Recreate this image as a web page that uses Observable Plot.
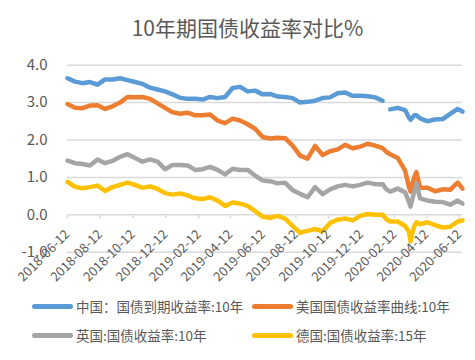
<!DOCTYPE html>
<html><head><meta charset="utf-8">
<script src="https://cdn.jsdelivr.net/npm/d3@7"></script>
<script src="https://cdn.jsdelivr.net/npm/@observablehq/plot@0.6"></script>
<style>
body{margin:0;background:#fff;font-family:"Noto Sans CJK SC","Noto Sans",sans-serif;color:#595959;width:475px;height:360px;overflow:hidden;}
#title{height:50px;line-height:54px;text-align:center;font-size:21px;padding-left:20px;box-sizing:border-box;}
#legend{position:relative;height:65px;font-size:13.5px;}
.item{position:absolute;height:20px;display:flex;align-items:center;white-space:nowrap;}
.sw{width:41px;height:5px;border-radius:3px;margin-right:3px;}
svg{display:block;}
</style></head><body>
<div id="title">10年期国债收益率对比%</div>
<div id="chart"></div>
<div id="legend"></div>
<script>
const dates = ["2018-06-12","2018-06-26","2018-07-10","2018-07-24","2018-08-07","2018-08-21","2018-09-04","2018-09-18","2018-10-02","2018-10-16","2018-10-30","2018-11-13","2018-11-27","2018-12-11","2018-12-25",
"2019-01-08","2019-01-22","2019-02-05","2019-02-19","2019-03-05","2019-03-19","2019-04-02","2019-04-16","2019-04-30","2019-05-14","2019-05-28","2019-06-11","2019-06-25","2019-07-09","2019-07-23","2019-08-06","2019-08-20","2019-09-03","2019-09-17","2019-10-01","2019-10-15","2019-10-29","2019-11-12","2019-11-26","2019-12-10","2019-12-24",
"2020-01-07","2020-01-21","2020-01-28","2020-02-04","2020-02-18","2020-03-03","2020-03-10","2020-03-13","2020-03-17","2020-03-20","2020-03-24","2020-03-31","2020-04-14","2020-04-28","2020-05-12","2020-05-26","2020-06-09","2020-06-18"];

const china = [3.65,3.56,3.52,3.55,3.48,3.62,3.62,3.65,3.60,3.55,3.50,3.40,3.35,3.30,3.22,
3.13,3.10,3.10,3.08,3.15,3.12,3.15,3.39,3.42,3.30,3.32,3.22,3.23,3.16,3.15,3.12,3.00,3.02,3.05,3.12,3.14,3.25,3.27,3.18,3.18,3.17,
3.14,3.05,null,2.82,2.86,2.80,2.60,2.54,2.60,2.66,2.66,2.58,2.50,2.55,2.56,2.70,2.83,2.76];

const us = [2.96,2.86,2.85,2.92,2.93,2.83,2.90,3.00,3.15,3.14,3.15,3.10,2.98,2.86,2.74,
2.70,2.73,2.66,2.66,2.68,2.52,2.45,2.57,2.52,2.42,2.30,2.08,2.04,2.06,2.05,1.85,1.58,1.50,1.84,1.60,1.70,1.75,1.87,1.78,1.82,1.90,
1.85,1.78,1.68,1.62,1.52,1.18,0.75,0.62,0.85,1.00,1.14,0.72,0.72,0.63,0.68,0.67,0.86,0.70];

const uk = [1.45,1.38,1.36,1.32,1.48,1.38,1.44,1.55,1.62,1.52,1.42,1.48,1.42,1.22,1.33,
1.33,1.32,1.20,1.22,1.28,1.20,1.08,1.23,1.20,1.20,1.05,0.92,0.90,0.84,0.86,0.66,0.56,0.47,0.74,0.55,0.68,0.76,0.80,0.76,0.80,0.86,
0.82,0.82,0.68,0.62,0.70,0.60,0.35,0.22,0.45,0.62,0.84,0.44,0.38,0.35,0.34,0.27,0.38,0.30];

const germany = [0.88,0.75,0.71,0.74,0.78,0.64,0.74,0.80,0.86,0.80,0.72,0.76,0.69,0.58,0.54,
0.57,0.52,0.44,0.42,0.47,0.38,0.24,0.33,0.30,0.24,0.10,-0.05,-0.08,-0.03,-0.10,-0.30,-0.48,-0.43,-0.38,-0.44,-0.22,-0.13,-0.10,-0.15,-0.03,0.02,
0.00,0.00,-0.12,-0.18,-0.18,-0.30,-0.45,-0.71,-0.45,-0.30,-0.20,-0.25,-0.20,-0.28,-0.34,-0.32,-0.18,-0.15];

const seriesNames = ["中国：国债到期收益率:10年","美国国债收益率曲线:10年","英国:国债收益率:10年","德国:国债收益率:15年"];
const colors = ["#5B9BD5","#ED7D31","#A5A5A5","#FFC000"];
const yTicks = [-1,0,1,2,3,4];
const xTickLabels = ["2018-06-12","2018-08-12","2018-10-12","2018-12-12","2019-02-12","2019-04-12","2019-06-12","2019-08-12","2019-10-12","2019-12-12","2020-02-12","2020-04-12","2020-06-12"];

const parse = d3.utcParse("%Y-%m-%d");
const allSeries = [china, us, uk, germany];
const rows = [];
allSeries.forEach((arr, i) => arr.forEach((v, j) => rows.push({date: parse(dates[j]), value: v, series: seriesNames[i]})));

const chart = Plot.plot({
  width: 475,
  height: 245,
  marginLeft: 67,
  marginRight: 13,
  marginTop: 14.7,
  marginBottom: 43.3,
  style: {fontFamily: '"Noto Sans CJK SC","Noto Sans",sans-serif', color: "#595959", background: "#fff"},
  x: {type: "utc", domain: [parse("2018-06-12"), parse("2020-06-18")], axis: null},
  y: {domain: [-1, 4], axis: null},
  color: {domain: seriesNames, range: colors},
  marks: [
    Plot.ruleY(yTicks, {y: d => d, stroke: "#d9d9d9", strokeWidth: 1.5}),
    Plot.ruleX(xTickLabels, {x: d => parse(d), y1: 0, y2: -0.1, stroke: "#d9d9d9", strokeWidth: 1.5}),
    Plot.axisY({ticks: yTicks, tickSize: 0, tickPadding: 20, tickFormat: d => d.toFixed(1), fontSize: 15, label: null}),
    Plot.line(rows, {x: "date", y: "value", z: "series", stroke: "series", strokeWidth: 4.5, strokeLinecap: "round", strokeLinejoin: "round"}),
    Plot.text(xTickLabels, {x: d => parse(d), y: -1, text: d => d, rotate: -45, textAnchor: "end", dy: -20, fontSize: 13, fill: "#595959"})
  ]
});
document.getElementById("chart").appendChild(chart);

const legend = document.getElementById("legend");
const pos = [[32, 1], [252, 1], [32, 30], [252, 30]];
seriesNames.forEach((name, i) => {
  const it = document.createElement("div");
  it.className = "item";
  it.style.left = pos[i][0] + "px";
  it.style.top = pos[i][1] + "px";
  const sw = document.createElement("div");
  sw.className = "sw";
  sw.style.background = colors[i];
  const tx = document.createElement("span");
  tx.textContent = name;
  it.appendChild(sw); it.appendChild(tx);
  legend.appendChild(it);
});
</script>
</body></html>
